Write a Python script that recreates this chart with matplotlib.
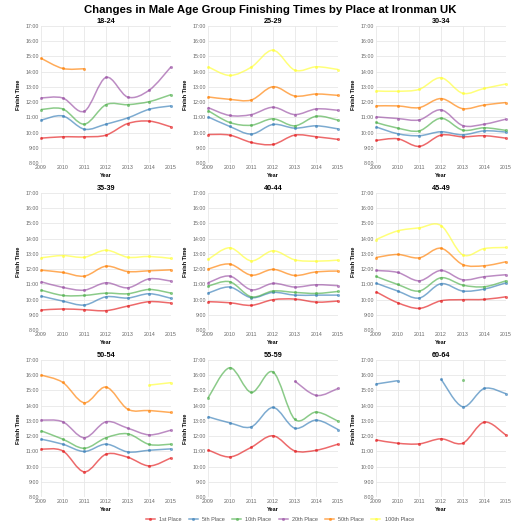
import numpy as np
import matplotlib
matplotlib.use("Agg")
import matplotlib.pyplot as plt
from matplotlib.path import Path
from matplotlib.patches import PathPatch
from matplotlib.lines import Line2D

plt.rcParams["font.family"] = ["Liberation Sans", "DejaVu Sans"]

nan = float("nan")

# ── data (finish times in hours) ─────────────────────────────────────────────
YEARS  = [2009, 2010, 2011, 2012, 2013, 2014, 2015]
PLACES = ["1st Place", "5th Place", "10th Place", "20th Place", "50th Place", "100th Place"]
COLORS = ["#e41a1c", "#377eb8", "#4daf4a", "#984ea3", "#ff7f00", "#ffff33"]
Y_TICKS = list(range(8, 18))
Y_LABELS = [f"{h}:00" for h in Y_TICKS]

# rows: 1st, 5th, 10th, 20th, 50th, 100th
t_18_24 = [
    [9.63, 9.72, 9.72, 9.83, 10.59, 10.75, 10.37],
    [10.81, 11.09, 10.22, 10.55, 10.96, 11.53, 11.75],
    [11.51, 11.55, 10.55, 11.83, 11.83, 12.03, 12.49],
    [12.27, 12.27, 11.40, 13.62, 12.33, 12.79, 14.32],
    [14.88, 14.21, 14.19, nan, nan, nan, nan],
    [nan, nan, nan, nan, nan, nan, nan],
]
t_25_29 = [
    [9.87, 9.83, 9.35, 9.22, 9.83, 9.72, 9.55],
    [11.03, 10.40, 9.90, 10.53, 10.29, 10.44, 10.24],
    [11.44, 10.66, 10.48, 10.90, 10.44, 11.07, 10.81],
    [11.64, 11.12, 11.18, 11.66, 11.18, 11.55, 11.46],
    [12.34, 12.18, 12.14, 13.01, 12.40, 12.53, 12.44],
    [14.32, 13.75, 14.30, 15.41, 14.10, 14.32, 14.14],
]
t_30_34 = [
    [9.48, 9.59, 9.09, 9.83, 9.72, 9.79, 9.63],
    [10.37, 9.92, 9.79, 10.05, 9.85, 10.11, 10.03],
    [10.66, 10.29, 10.11, 10.94, 10.16, 10.31, 10.14],
    [11.03, 10.92, 10.83, 11.49, 10.46, 10.55, 10.88],
    [11.75, 11.75, 11.64, 12.23, 11.57, 11.81, 11.97],
    [12.73, 12.71, 12.84, 13.60, 12.58, 12.90, 13.19],
]
t_35_39 = [
    [9.31, 9.38, 9.33, 9.27, 9.57, 9.86, 9.77],
    [10.23, 9.90, 9.64, 10.18, 10.10, 10.38, 10.08],
    [10.62, 10.27, 10.27, 10.42, 10.38, 10.66, 10.42],
    [11.17, 10.80, 10.62, 11.10, 10.77, 11.36, 11.21],
    [11.93, 11.78, 11.54, 12.19, 11.84, 11.89, 11.95],
    [12.74, 12.89, 12.78, 13.24, 12.78, 12.83, 12.70],
]
t_40_44 = [
    [9.86, 9.79, 9.62, 9.99, 10.03, 9.83, 9.90],
    [10.42, 10.82, 10.12, 10.47, 10.29, 10.29, 10.29],
    [10.88, 11.17, 10.18, 10.56, 10.47, 10.40, 10.53],
    [11.10, 11.54, 10.64, 11.06, 10.82, 10.97, 10.91],
    [12.00, 12.33, 11.60, 11.98, 11.58, 11.82, 11.87],
    [12.63, 13.40, 12.54, 13.20, 12.61, 12.52, 12.59],
]
t_45_49 = [
    [10.51, 9.79, 9.42, 9.92, 9.99, 10.01, 10.18],
    [11.08, 10.56, 10.10, 11.04, 10.56, 10.69, 11.10],
    [11.52, 10.99, 10.56, 11.43, 10.95, 10.84, 11.23],
    [11.91, 11.78, 11.23, 11.91, 11.30, 11.50, 11.63],
    [12.76, 12.96, 12.74, 13.37, 12.30, 12.22, 12.48],
    [13.94, 14.51, 14.71, 14.86, 12.94, 13.35, 13.42],
]
t_50_54 = [
    [11.14, 11.03, 9.65, 10.81, 10.61, 10.04, 10.57],
    [11.80, 11.47, 10.99, 11.47, 10.96, 11.07, 11.16],
    [12.35, 11.80, 11.20, 11.89, 12.15, 11.45, 11.47],
    [13.05, 12.94, 11.89, 12.94, 12.52, 12.08, 12.39],
    [16.01, 15.53, 14.19, 15.22, 13.77, 13.68, 13.55],
    [nan, nan, nan, nan, nan, 15.35, 15.51],
]
t_55_59 = [
    [11.09, 10.63, 11.27, 12.02, 11.03, 11.07, 11.47],
    [13.27, 12.87, 12.61, 13.88, 12.52, 13.05, 12.43],
    [14.50, 16.49, 14.87, 16.21, 13.11, 13.58, 12.98],
    [nan, nan, nan, nan, 15.62, 14.67, 15.13],
    [nan, nan, nan, nan, nan, nan, nan],
    [nan, nan, nan, nan, nan, nan, nan],
]
t_60_64 = [
    [11.75, 11.53, 11.49, 11.82, 11.53, 12.92, 12.06],
    [15.42, 15.64, nan, 15.75, 13.93, 15.13, 14.78],
    [nan, nan, nan, nan, 15.66, nan, nan],
    [nan, nan, nan, nan, nan, nan, nan],
    [nan, nan, nan, nan, nan, nan, nan],
    [nan, nan, nan, nan, nan, nan, nan],
]

GROUPS = [("18-24", t_18_24), ("25-29", t_25_29), ("30-34", t_30_34),
          ("35-39", t_35_39), ("40-44", t_40_44), ("45-49", t_45_49),
          ("50-54", t_50_54), ("55-59", t_55_59), ("60-64", t_60_64)]


# ── smooth path through points (catmull-rom as bezier) ───────────────────────
def smooth_path(xs, ys):
    pts = list(zip(xs, ys))
    verts = [pts[0]]
    codes = [Path.MOVETO]
    n = len(pts)
    for i in range(n - 1):
        p0 = pts[i - 1] if i > 0 else pts[i]
        p1 = pts[i]
        p2 = pts[i + 1]
        p3 = pts[i + 2] if i + 2 < n else pts[i + 1]
        c1 = (p1[0] + (p2[0] - p0[0]) / 6, p1[1] + (p2[1] - p0[1]) / 6)
        c2 = (p2[0] - (p3[0] - p1[0]) / 6, p2[1] - (p3[1] - p1[1]) / 6)
        verts += [c1, c2, p2]
        codes += [Path.CURVE4] * 3
    return Path(verts, codes)


def segments(xs, ys):
    seg = []
    for x, y in zip(xs, ys):
        if np.isnan(y):
            if seg:
                yield seg
            seg = []
        else:
            seg.append((x, y))
    if seg:
        yield seg


fig = plt.figure(figsize=(5.3, 5.3), dpi=100, facecolor="white")
fig.text(0.509, 0.981, "Changes in Male Age Group Finishing Times by Place at Ironman UK",
         ha="center", va="center", fontsize=8.2, fontweight="bold")

lefts   = [0.0774, 0.3925, 0.7094]
bottoms = [0.6925, 0.3774, 0.0623]
w, h = 0.2453, 0.2585

for k, (name, data) in enumerate(GROUPS):
    ax = fig.add_axes([lefts[k % 3], bottoms[k // 3], w, h])
    ax.set_xlim(2009, 2015)
    ax.set_ylim(8, 17)
    ax.set_xticks(YEARS)
    ax.set_xticklabels([str(y) for y in YEARS])
    ax.set_yticks(Y_TICKS)
    ax.set_yticklabels(Y_LABELS)
    ax.tick_params(labelsize=3.8, colors="#666666", length=0, pad=1.5)
    ax.grid(True, color="#e8e8e8", linewidth=0.6)
    ax.set_axisbelow(True)
    for s in ax.spines.values():
        s.set_visible(False)
    ax.set_title(name, fontsize=5.2, fontweight="bold", pad=1.8)
    ax.set_xlabel("Year", fontsize=4, fontweight="bold", labelpad=2)
    ax.set_ylabel("Finish Time", fontsize=4, fontweight="bold", labelpad=3)

    for vals, col in zip(data, COLORS):
        for seg in segments(YEARS, vals):
            sx = [p[0] for p in seg]
            sy = [p[1] for p in seg]
            if len(seg) > 1:
                ax.add_patch(PathPatch(smooth_path(sx, sy), fill=False,
                                       edgecolor=col, alpha=0.65, lw=1.1,
                                       clip_on=False, zorder=3))
            ax.plot(sx, sy, ls="none", marker="o", ms=2.2, color=col,
                    alpha=0.65, mec="none", clip_on=False, zorder=4)

handles = [Line2D([0], [0], color=c, lw=1.1, alpha=0.65, marker="o", ms=2.2, mec="none")
           for c in COLORS]
fig.legend(handles, PLACES, loc="center", bbox_to_anchor=(0.528, 0.019), ncol=6,
           frameon=False, fontsize=4, handlelength=1.6, columnspacing=1.3,
           handletextpad=0.8, labelcolor="#555555")

plt.savefig("out.png", dpi=100, facecolor="white")
